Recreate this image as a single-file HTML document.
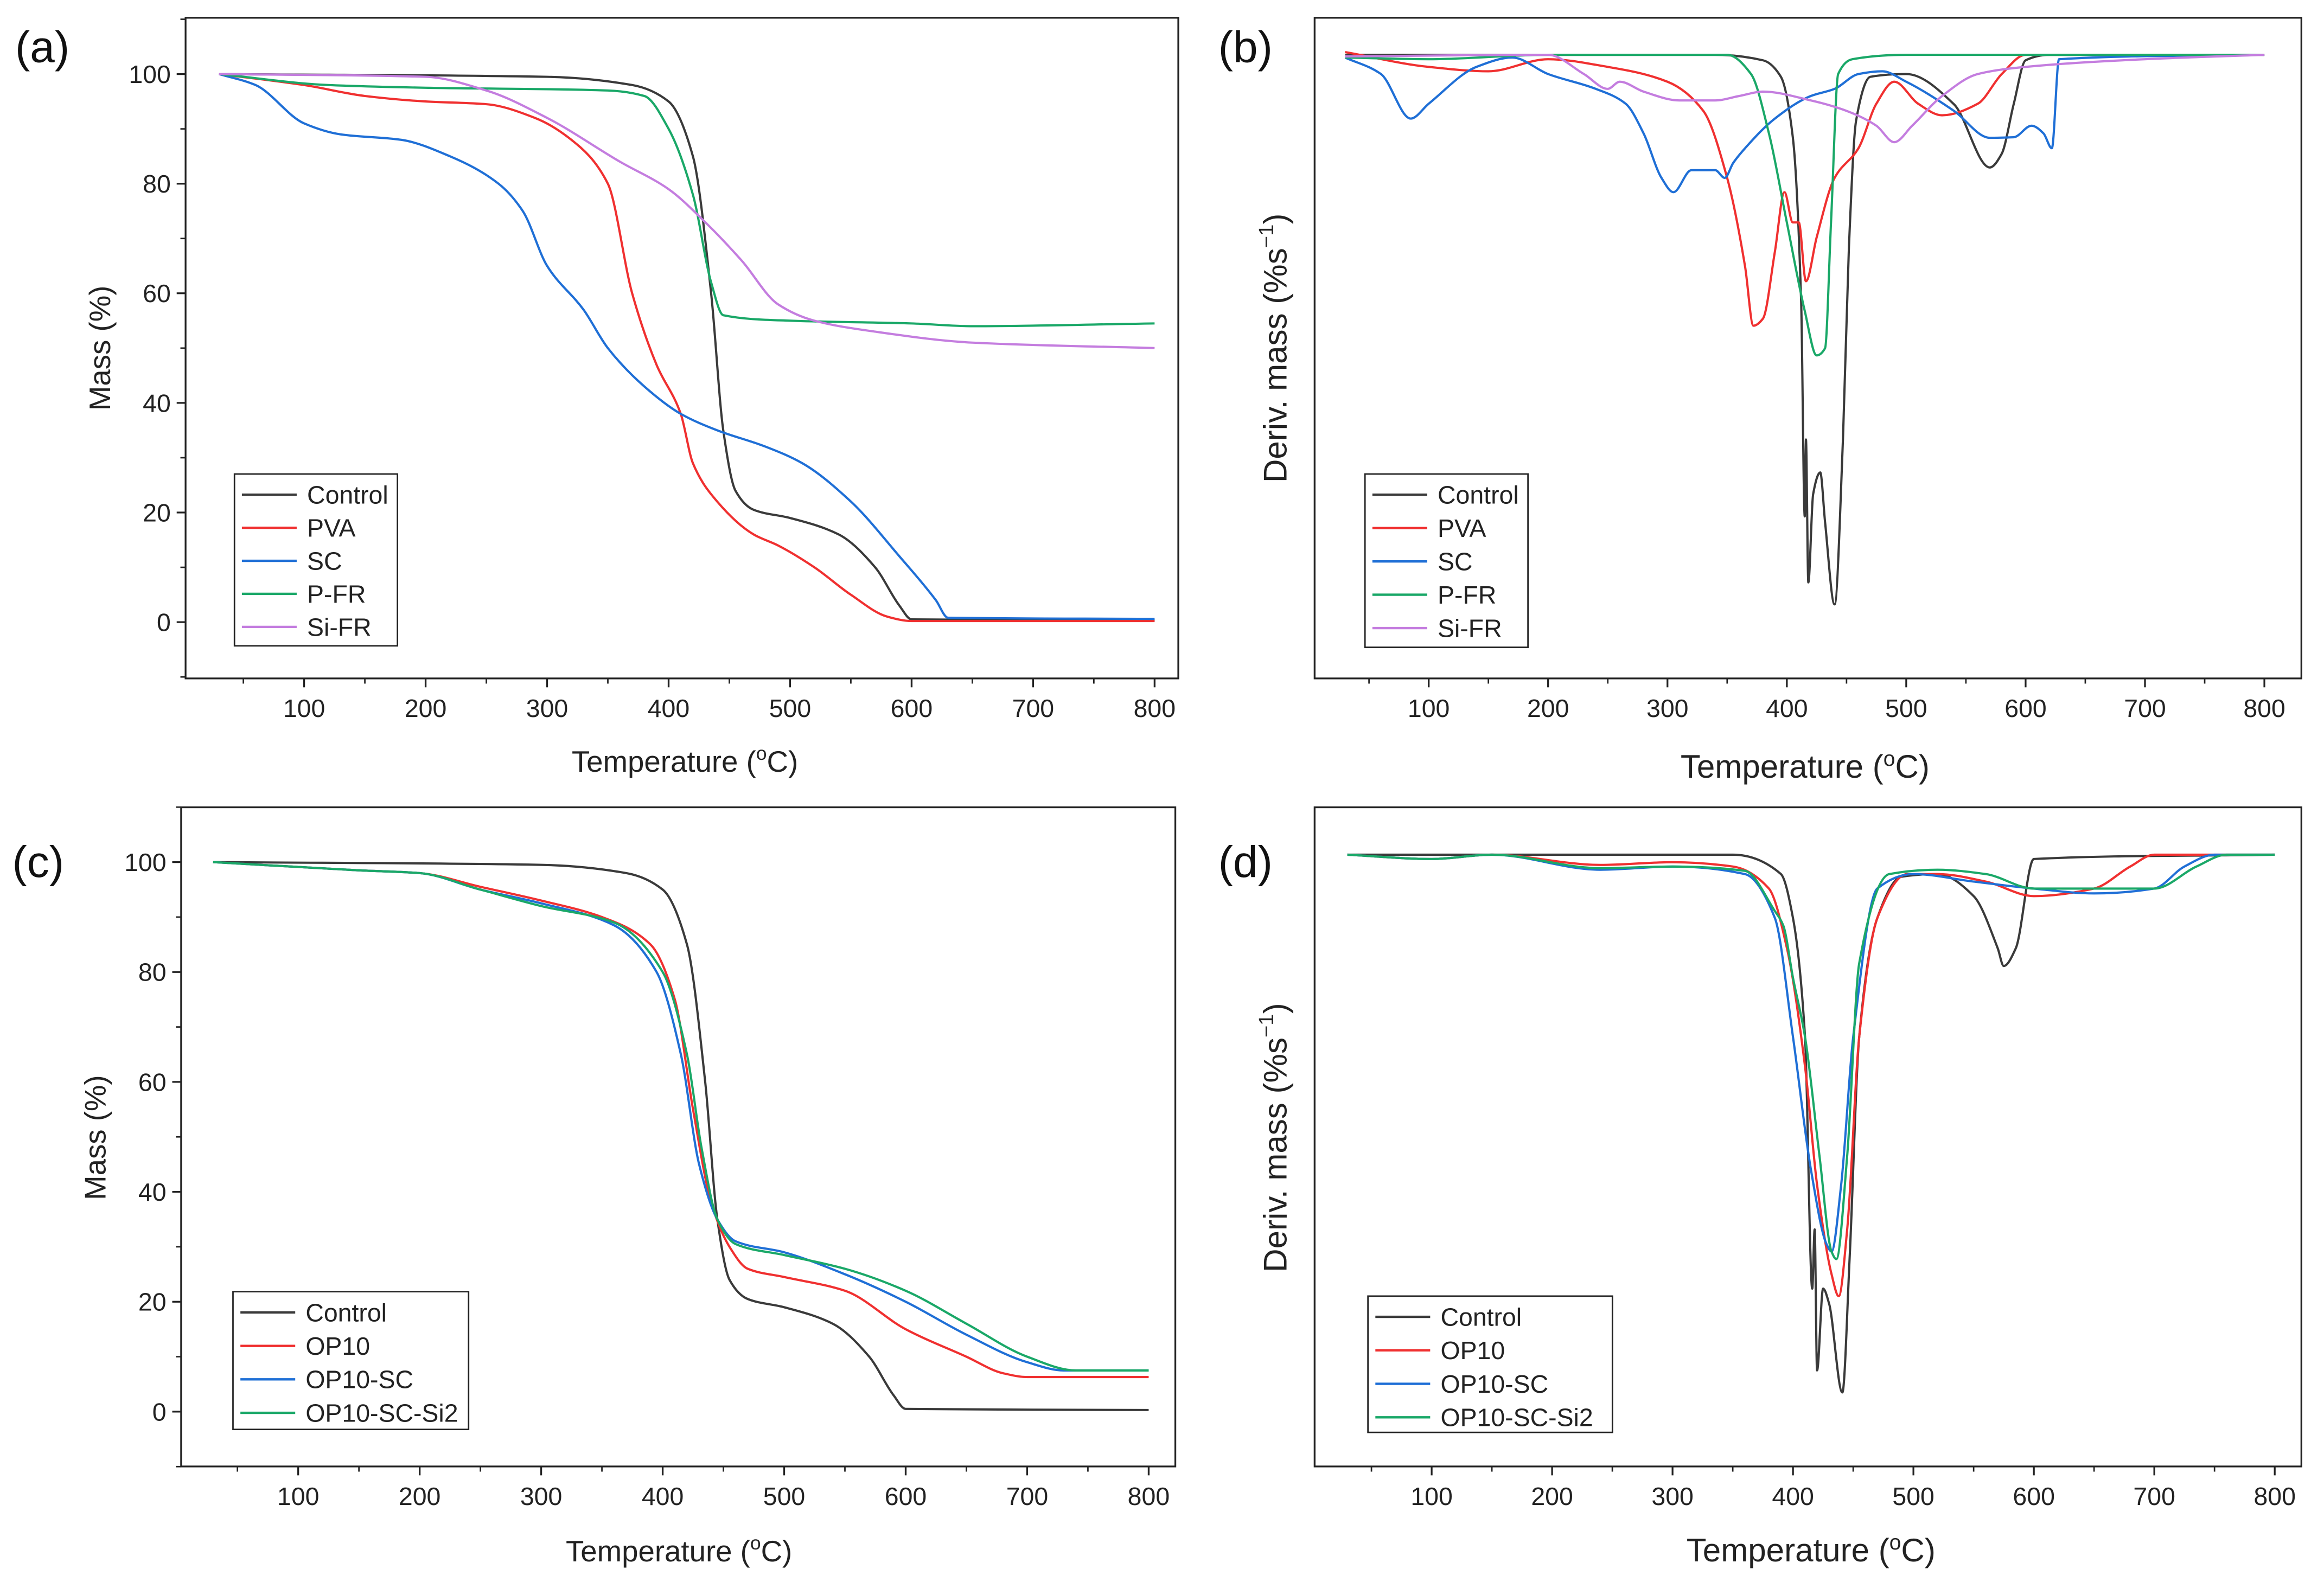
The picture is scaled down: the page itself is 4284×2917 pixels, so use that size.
<!DOCTYPE html>
<html><head><meta charset="utf-8"><style>
html,body{margin:0;padding:0;background:#fff}
svg{display:block;font-family:"Liberation Sans",Arial,sans-serif}
</style></head><body>
<svg id="fig" width="4284" height="2917" viewBox="0 0 1568 1068" xmlns="http://www.w3.org/2000/svg"></svg>
<script>
// ---------- data ----------
const ticksX = [100,200,300,400,500,600,700,800];
const ticksMass = [0,20,40,60,80,100];
const panelLetters = ["(a)","(b)","(c)","(d)"];
const legendA = ["Control","PVA","SC","P-FR","Si-FR"];
const legendC = ["Control","OP10","OP10-SC","OP10-SC-Si2"];
// TGA panel (a): [temperature, mass %]
const aControl = [[30,100],[300,99.5],[370,98],[400,95],[420,85],[435,60],[445,35],[455,24],[470,20.5],[500,19],[540,16],[570,10],[590,3],[600,0.5],[800,0.3]];
const aPVA = [[30,100],[100,98],[150,96],[200,95],[250,94.5],[290,92],[320,88],[350,80],[370,60],[390,47],[410,38],[420,29],[440,22],[470,16],[490,14],[520,10],[550,5],[580,1],[600,0.2],[800,0.2]];
const aSC = [[30,100],[60,98],[100,91],[130,89],[180,88],[220,85],[260,80],[280,75],[300,65],[330,57],[350,50],[380,43],[410,38],[440,35],[480,32],[510,29],[550,22],[590,12],[620,4],[630,0.8],[800,0.6]];
const aPFR = [[30,100],[120,98],[200,97.5],[350,97],[380,96],[400,90],[420,78],[435,62],[445,56],[500,55],[600,54.5],[650,54],[800,54.5]];
const aSiFR = [[30,100],[200,99.5],[250,97],[300,92],[360,84],[400,79],[430,73],[460,66],[490,58],[520,55],[570,53],[650,51],[800,50]];
// DTG panel (b): [temperature, -deriv (relative units, 100 = deepest peak)]
const bControl = [[30,0],[340,0],[380,1],[395,4],[405,15],[412,45],[415,84],[416,70],[418,96],[422,80],[428,76],[432,85],[440,100],[447,70],[452,35],[458,12],[470,4],[500,3.5],[540,9],[570,20.5],[580,18],[590,9],[600,1],[620,0],[800,0]];
const bPVA = [[30,-0.5],[100,2.2],[150,3],[200,0.8],[250,2.2],[300,4.9],[330,10.2],[350,22.4],[365,38.5],[372,49.3],[380,48],[390,35.8],[398,25],[405,30.5],[410,30.5],[416,41.2],[425,33.2],[440,22.4],[460,17],[475,8.9],[490,4.9],[510,8.9],[530,11],[560,8.9],[580,3.5],[600,0],[800,0]];
const bSC = [[30,0.5],[60,3.5],[85,11.6],[100,8.9],[140,2.2],[170,0.5],[200,3.5],[240,6.2],[265,8.9],[280,14.3],[295,22.4],[305,25],[320,21],[340,21],[348,22.4],[355,19.7],[365,17],[390,11.6],[420,7.5],[440,6.2],[460,3.5],[480,3],[500,4.9],[540,10.2],[570,15.1],[590,15],[605,12.9],[615,14.3],[622,17],[628,0.8],[800,0]];
const bPFR = [[30,0.5],[100,0.8],[200,0],[350,0],[370,3.5],[385,14.3],[400,30.5],[415,46.6],[425,54.7],[432,53.4],[437,30.5],[443,3.5],[455,0.8],[500,0],[800,0]];
const bSiFR = [[30,0.3],[200,0],[230,3.5],[250,6.2],[260,4.9],[280,6.7],[310,8.3],[340,8.3],[360,7.5],[380,6.7],[420,8.3],[450,10.2],[475,12.9],[490,15.9],[505,12.9],[530,7.5],[560,3.5],[600,2.2],[700,0.8],[800,0]];
// TGA panel (c)
const cControl = aControl;
const cOP10 = [[30,100],[150,98.5],[200,98],[250,95.5],[300,93],[350,90],[390,85],[410,75],[425,55],[440,38],[455,30],[470,26],[500,24.5],[550,22],[600,15],[650,10],[680,7],[700,6.3],[800,6.3]];
const cOP10SC = [[30,100],[150,98.5],[200,98],[250,95],[300,92.5],[360,88.5],[395,80],[415,65],[430,45],[445,35],[460,31],[500,29],[550,25],[600,20],[650,14],[700,9],[730,7.5],[800,7.5]];
const cOP10SCSi2 = [[30,100],[150,98.5],[200,98],[250,95],[300,92],[360,89],[400,80],[420,65],[432,48],[445,35],[460,30.5],[500,28.5],[550,26],[600,22],[650,16],[700,10],[740,7.5],[800,7.5]];
// DTG panel (d)
const dControl = [[30,0],[350,0],[390,3.6],[400,11.8],[410,33.9],[416,80.7],[418,69.7],[420,95.9],[425,80.7],[430,83.5],[441,100],[447,75.2],[455,33.9],[470,11.8],[490,4.1],[520,3.6],[550,7.7],[570,17.4],[575,20.7],[585,17.4],[600,0.8],[800,0]];
const dOP10 = [[30,0],[100,0.8],[150,0],[240,1.9],[300,1.4],[350,2.2],[380,6.3],[395,17.4],[410,39.4],[420,61.4],[432,78],[438,82.1],[445,69.7],[455,33.9],[470,11.8],[495,3.6],[520,3.6],[560,5],[600,7.7],[650,6.3],[680,2.2],[700,0],[800,0]];
const dOP10SC = [[30,0],[100,0.8],[150,0],[240,2.8],[300,2.2],[360,3.6],[385,11.8],[400,33.9],[415,58.7],[428,72.5],[432,73.8],[440,61.4],[450,33.9],[470,6.3],[500,3.6],[550,5],[600,6.3],[650,7.2],[700,6.3],[725,2.2],[750,0],[800,0]];
const dOP10SCSi2 = [[30,0],[100,0.8],[150,0],[240,2.5],[300,2.2],[360,3],[385,10.5],[392,13.2],[400,22.9],[410,33.9],[422,56],[432,73.8],[436,75.2],[445,56],[455,20.2],[480,3.6],[520,2.8],[560,3.6],[600,6.3],[700,6.3],[735,2.2],[760,0],[800,0]];

const colors = {Control:"#3a3a3a",PVA:"#f03030","SC":"#1f6fd6","P-FR":"#1aa868","Si-FR":"#c47ddf",OP10:"#f03030","OP10-SC":"#1f6fd6","OP10-SC-Si2":"#1aa868"};

// ---------- drawing ----------
const svg = document.getElementById('fig');
const NS = "http://www.w3.org/2000/svg";
function mk(tag, attrs, parent){ const e=document.createElementNS(NS,tag); for(const k in attrs) e.setAttribute(k,attrs[k]); (parent||svg).appendChild(e); return e; }

// monotone cubic path through pixel points
function smoothPath(pts){
  const n=pts.length;
  if(n<2) return '';
  const dx=[],m=[],t=[];
  for(let i=0;i<n-1;i++){ dx[i]=pts[i+1][0]-pts[i][0]; m[i]=(pts[i+1][1]-pts[i][1])/dx[i]; }
  t[0]=m[0]; t[n-1]=m[n-2];
  for(let i=1;i<n-1;i++){
    if(m[i-1]*m[i]<=0) t[i]=0;
    else { const w1=2*dx[i]+dx[i-1], w2=dx[i]+2*dx[i-1]; t[i]=(w1+w2)/(w1/m[i-1]+w2/m[i]); }
  }
  let d='M'+pts[0][0].toFixed(2)+','+pts[0][1].toFixed(2);
  for(let i=0;i<n-1;i++){
    const h=dx[i]/3;
    d+=' C'+(pts[i][0]+h).toFixed(2)+','+(pts[i][1]+t[i]*h).toFixed(2)+' '+(pts[i+1][0]-h).toFixed(2)+','+(pts[i+1][1]-t[i+1]*h).toFixed(2)+' '+pts[i+1][0].toFixed(2)+','+pts[i+1][1].toFixed(2);
  }
  return d;
}

function panel(cfg){
  const g = mk('g',{});
  
  
  const xs = t => cfg.x100 + (t-100)*(cfg.x800-cfg.x100)/700;
  const ys = v => cfg.y0 + v*cfg.ky;
  const box = mk('rect',{x:cfg.bx0,y:cfg.by0,width:cfg.bx1-cfg.bx0,height:cfg.by1-cfg.by0,fill:'none',stroke:'#222','stroke-width':1.2},g);
  
  
  ticksX.forEach(t=>{
    const x=xs(t);
    mk('line',{x1:x,x2:x,y1:cfg.by1,y2:cfg.by1+6,stroke:'#222','stroke-width':1.2},g);
    const mx=xs(t-50);
    if(mx>cfg.bx0) mk('line',{x1:mx,x2:mx,y1:cfg.by1,y2:cfg.by1+3.5,stroke:'#222','stroke-width':1},g);
    const tl=mk('text',{x:x,y:cfg.by1+26,'font-size':17,'text-anchor':'middle',fill:'#222'},g);
    tl.textContent=t;
    
    
  });
  if(cfg.massTicks){
    ticksMass.forEach(v=>{
      const y=ys(v);
      mk('line',{x1:cfg.bx0-6,x2:cfg.bx0,y1:y,y2:y,stroke:'#222','stroke-width':1.2},g);
      mk('line',{x1:cfg.bx0-3.5,x2:cfg.bx0,y1:ys(v+10),y2:ys(v+10),stroke:'#222','stroke-width':1},g);
      const tl=mk('text',{x:cfg.bx0-10,y:y+6,'font-size':17,'text-anchor':'end',fill:'#222'},g);
      tl.textContent=v;
      
      
    });
    mk('line',{x1:cfg.bx0-3.5,x2:cfg.bx0,y1:ys(-10),y2:ys(-10),stroke:'#222','stroke-width':1},g);
  }
  cfg.series.forEach(([nm,data])=>{
    const pts=data.map(d=>[xs(d[0]),ys(d[1])]);
    const p=mk('path',{d:smoothPath(pts),fill:'none',stroke:colors[nm],'stroke-width':1.5,'stroke-linejoin':'round'},g);
    
    
  });
  const xt=mk('text',{x:cfg.xtx,y:cfg.xty,'font-size':cfg.tfs,'text-anchor':'middle',fill:'#222'},g);
  xt.innerHTML='Temperature (<tspan dy="-8" font-size="'+(cfg.tfs*0.65)+'">o</tspan><tspan dy="8">C)</tspan>';
  
  
  const yt=mk('text',{x:0,y:0,'font-size':cfg.tfs,'text-anchor':'middle',fill:'#222',transform:'translate('+cfg.ytx+','+cfg.yty+') rotate(-90)'},g);
  yt.innerHTML=cfg.ytitle;
  
  
  const pl=mk('text',{x:cfg.lx,y:cfg.ly,'font-size':30,fill:'#111'},g);
  pl.textContent=cfg.letter;
  
  
  const lg=mk('g',{},g);
  
  
  mk('rect',{x:cfg.leg[0],y:cfg.leg[1],width:cfg.leg[2],height:cfg.leg[3],fill:'#fff',stroke:'#222','stroke-width':1},lg);
  cfg.legendNames.forEach((nm,i)=>{
    const y=cfg.leg[1]+14+i*cfg.legStep;
    const e=mk('g',{},lg);
    
    
    mk('line',{x1:cfg.leg[0]+5,x2:cfg.leg[0]+42,y1:y,y2:y,stroke:colors[nm],'stroke-width':1.6},e);
    const t=mk('text',{x:cfg.leg[0]+49,y:y+6,'font-size':17,fill:'#222'},e);
    t.textContent=nm;
  });
}

const dtgTitle='Deriv. mass (%s<tspan dy="-9" font-size="14">−1</tspan><tspan dy="9">)</tspan>';
panel({name:'panel-a',letter:panelLetters[0],lx:10,ly:42,bx0:125,bx1:795,by0:12,by1:458,x100:205,x800:779,y0:420,ky:-3.7,massTicks:true,
  series:[['Control',aControl],['PVA',aPVA],['SC',aSC],['P-FR',aPFR],['Si-FR',aSiFR]],
  xtx:462,xty:521,tfs:20,ytx:74,yty:235,ytitle:'Mass (%)',leg:[158,320,110,116],legStep:22.3,legendNames:legendA});
panel({name:'panel-b',letter:panelLetters[1],lx:822,ly:42,bx0:887,bx1:1553,by0:12,by1:458,x100:964,x800:1528,y0:37,ky:3.71,massTicks:false,
  series:[['Control',bControl],['PVA',bPVA],['SC',bSC],['P-FR',bPFR],['Si-FR',bSiFR]],
  xtx:1218,xty:525,tfs:22,ytx:868,yty:235,ytitle:dtgTitle,leg:[921,320,110,117],legStep:22.5,legendNames:legendA});
panel({name:'panel-c',letter:panelLetters[2],lx:8,ly:592,bx0:122,bx1:793,by0:545,by1:990,x100:201,x800:775,y0:953,ky:-3.71,massTicks:true,
  series:[['Control',cControl],['OP10',cOP10],['OP10-SC',cOP10SC],['OP10-SC-Si2',cOP10SCSi2]],
  xtx:458,xty:1054,tfs:20,ytx:71,yty:768,ytitle:'Mass (%)',leg:[157,872,159,93],legStep:22.6,legendNames:legendC});
panel({name:'panel-d',letter:panelLetters[3],lx:822,ly:592,bx0:887,bx1:1553,by0:545,by1:990,x100:966,x800:1535,y0:577,ky:3.63,massTicks:false,
  series:[['Control',dControl],['OP10',dOP10],['OP10-SC',dOP10SC],['OP10-SC-Si2',dOP10SCSi2]],
  xtx:1222,xty:1054,tfs:22,ytx:868,yty:768,ytitle:dtgTitle,leg:[923,875,165,92],legStep:22.6,legendNames:legendC});
</script>
</body></html>
